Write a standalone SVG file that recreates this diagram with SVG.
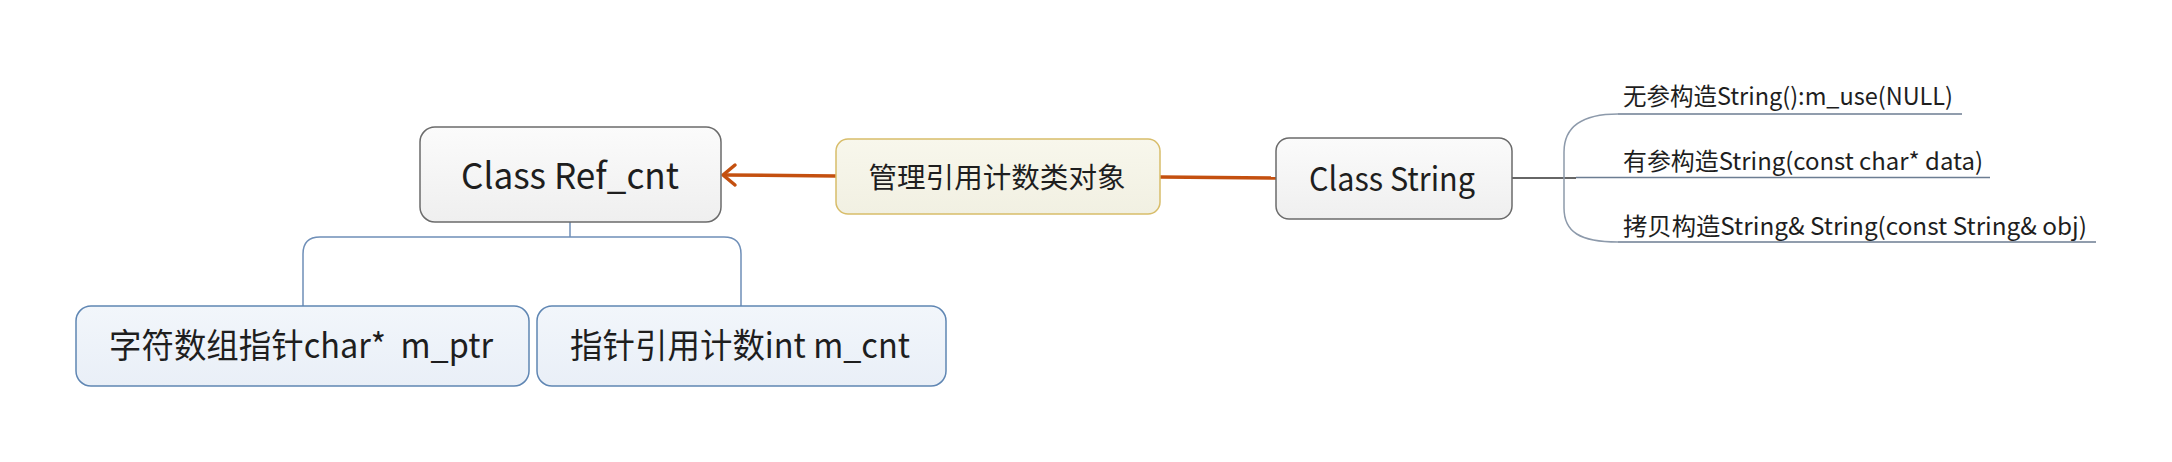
<svg xmlns="http://www.w3.org/2000/svg" width="2172" height="462" viewBox="0 0 2172 462">
<defs>
<linearGradient id="gGray" x1="0" y1="0" x2="0" y2="1">
<stop offset="0" stop-color="#fbfbfb"/>
<stop offset="1" stop-color="#efefef"/>
</linearGradient>
<linearGradient id="gCream" x1="0" y1="0" x2="0" y2="1">
<stop offset="0" stop-color="#f8f7ec"/>
<stop offset="1" stop-color="#f1f0e2"/>
</linearGradient>
<linearGradient id="gBlue" x1="0" y1="0" x2="0" y2="1">
<stop offset="0" stop-color="#f2f6fb"/>
<stop offset="1" stop-color="#e9eff7"/>
</linearGradient>
</defs>
<style>
text{font-family:"Noto Sans CJK SC","Noto Sans",sans-serif;fill:#1e1e1e;white-space:pre}
.gray{fill:url(#gGray);stroke:#6b6b6b;stroke-width:1.5}
.cream{fill:url(#gCream);stroke:#d8bd6a;stroke-width:1.5}
.blue{fill:url(#gBlue);stroke:#5f86b3;stroke-width:1.5}
.main{stroke:#c4500f;stroke-width:3.5;fill:none}
.head{stroke:#c4500f;stroke-width:3.5;fill:none;stroke-linecap:round;stroke-linejoin:round}
.thin{stroke:#333;stroke-width:1.5;fill:none}
.tree{stroke:#6f8fb8;stroke-width:1.5;fill:none}
.brace{stroke:#8d9aab;stroke-width:1.5;fill:none}
.uline{stroke:#6c7d92;stroke-width:1.5;fill:none}
</style>
<rect width="2172" height="462" fill="#ffffff"/>
<g id="connectors">
<path class="main" d="M836 176 L724 175"/>
<path class="head" d="M735 165 L723 175 L735 185"/>
<path class="main" d="M1160 177 L1276 178"/>
<path class="thin" d="M1512 178 L1576 178"/>
<path class="brace" d="M1618 114 C1580 114 1564 128 1564 152 L1564 208 C1564 232 1580 242 1618 242"/>
<path class="uline" d="M1618 114 L1962 114"/>
<path class="uline" d="M1576 177.5 L1990 177.5"/>
<path class="uline" d="M1618 242 L2096 242"/>
<path class="tree" d="M570 222 L570 237"/>
<path class="tree" d="M303 306 L303 254 Q303 237 320 237 L724 237 Q741 237 741 254 L741 306"/>
</g>
<g id="node-refcnt">
<rect class="gray" x="420" y="127" width="301" height="95" rx="15"/>
<text x="570" y="189" font-size="36" text-anchor="middle" textLength="218" lengthAdjust="spacingAndGlyphs">Class Ref_cnt</text>
</g>
<g id="node-manage">
<rect class="cream" x="836" y="139" width="324" height="75" rx="12"/>
<text x="997" y="188" font-size="28.5" text-anchor="middle" textLength="257" lengthAdjust="spacingAndGlyphs">管理引用计数类对象</text>
</g>
<g id="node-string">
<rect class="gray" x="1276" y="138" width="236" height="81" rx="13"/>
<text x="1392" y="191" font-size="33" text-anchor="middle" textLength="166" lengthAdjust="spacingAndGlyphs">Class String</text>
</g>
<g id="node-ctor1">
<text x="1623" y="105" font-size="24" textLength="330" lengthAdjust="spacingAndGlyphs">无参构造String():m_use(NULL)</text>
</g>
<g id="node-ctor2">
<text x="1623" y="170" font-size="24" textLength="360" lengthAdjust="spacingAndGlyphs">有参构造String(const char* data)</text>
</g>
<g id="node-ctor3">
<text x="1623" y="235" font-size="24" textLength="464" lengthAdjust="spacingAndGlyphs">拷贝构造String&amp; String(const String&amp; obj)</text>
</g>
<g id="node-ptr">
<rect class="blue" x="76" y="306" width="453" height="80" rx="15"/>
<text x="301" y="358" font-size="34" text-anchor="middle" textLength="384" lengthAdjust="spacingAndGlyphs" xml:space="preserve">字符数组指针char*  m_ptr</text>
</g>
<g id="node-cnt">
<rect class="blue" x="537" y="306" width="409" height="80" rx="15"/>
<text x="740" y="358" font-size="34" text-anchor="middle" textLength="340" lengthAdjust="spacingAndGlyphs">指针引用计数int m_cnt</text>
</g>
</svg>
